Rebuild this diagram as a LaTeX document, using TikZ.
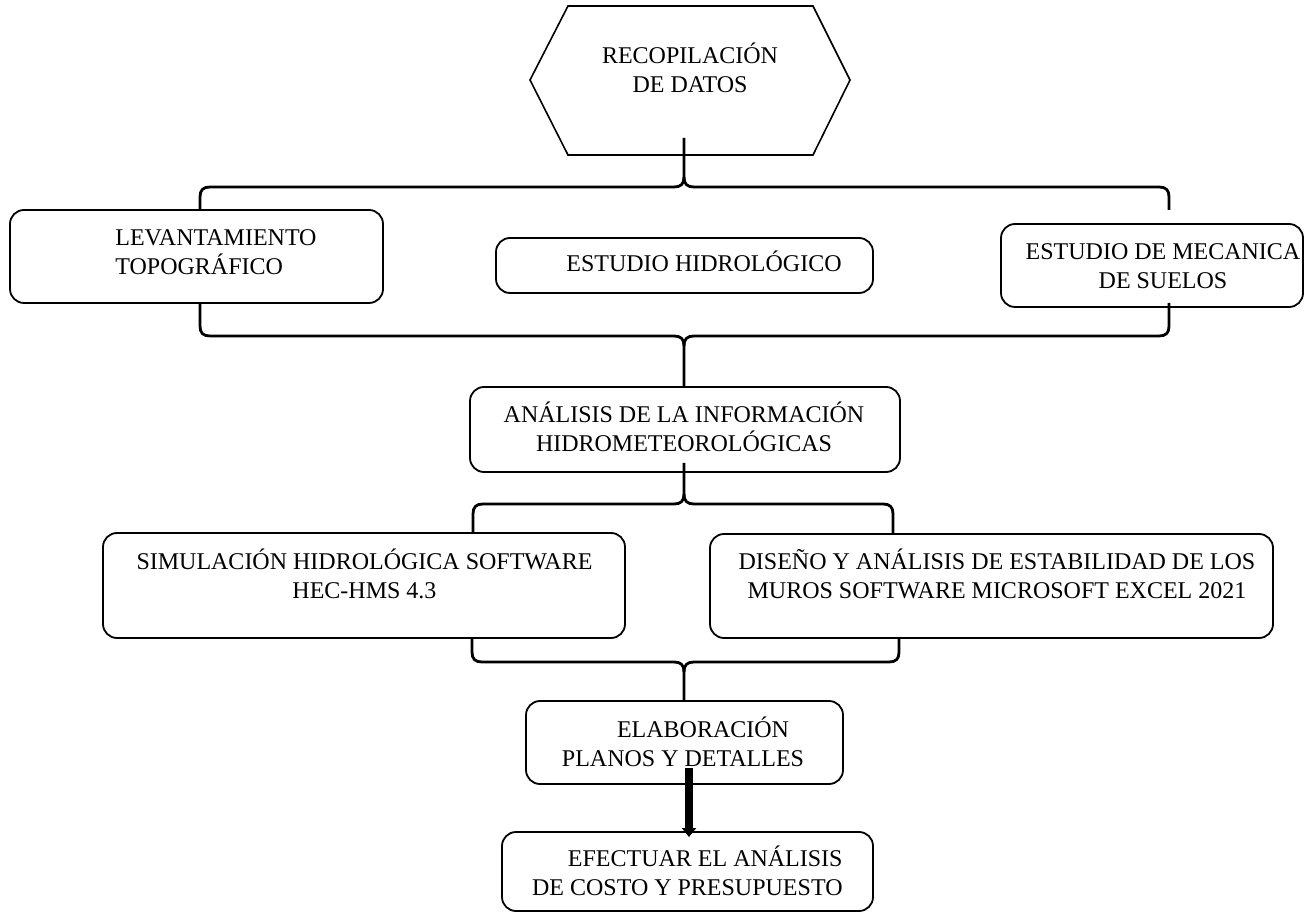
\documentclass[tikz,border=0pt]{standalone}
\usepackage{fontspec}
\setmainfont{Liberation Serif}
\usetikzlibrary{fit,arrows.meta}
\newcommand\drawbrace[6]{%
 \pgfmathsetmacro\brcS{(#4>#3)?10:-10}%
 \pgfmathsetmacro\brcC{(#4>#3)?3:-3}%
 \pgfmathsetmacro\brcT{(#6>#3)?10:-10}%
 \pgfmathsetmacro\brcD{(#6>#3)?3:-3}%
 \draw[brc] (#1,#4) -- (#1,{#3+(\brcS)}) .. controls (#1,{#3+(\brcC)}) and ({#1+3},#3) .. ({#1+10},#3) -- ({#5-10},#3) .. controls ({#5-3},#3) and (#5,{#3+(\brcD)}) .. (#5,{#3+(\brcT)}) -- (#5,#6);
 \draw[brc] (#5,{#3+(\brcT)}) .. controls (#5,{#3+(\brcD)}) and ({#5+3},#3) .. ({#5+10},#3) -- ({#2-10},#3) .. controls ({#2-3},#3) and (#2,{#3+(\brcC)}) .. (#2,{#3+(\brcS)}) -- (#2,#4);
}
\begin{document}
\begin{tikzpicture}[x=0.5pt,y=-0.5pt,
  box/.style={draw, line width=0.9pt, rounded corners=7pt, inner sep=0pt, outer sep=0pt},
  txt/.style={font=\fontsize{12pt}{14.5pt}\selectfont, align=center, inner sep=0pt},
  brc/.style={line width=1.4pt, line join=round},
  hexline/.style={line width=0.8pt, line join=miter}]
\fill[white] (0,0) rectangle (1310,913);
\useasboundingbox (0,0) rectangle (1310,913);

% braces
\drawbrace{200}{1169}{187}{210}{684}{138}
\drawbrace{200}{1169}{336}{303}{684}{387}
\drawbrace{473}{893}{504}{534}{684}{463}
\drawbrace{472}{899}{662}{638}{684}{701}

% hexagon
\draw[hexline] (568,6) -- (813,6) -- (850,80) -- (813,155) -- (568,155) -- (530,80) -- cycle;
\node[txt, anchor=base] (hex) at (690,93) {RECOPILACIÓN\\DE DATOS};

% boxes
\node[box, fit={(10,210) (383,303)}] (b1) {};
\node[box, fit={(496,238) (873,293)}] (b2) {};
\node[box, fit={(1001,224) (1303,307)}] (b3) {};
\node[box, fit={(470,387) (900,472)}] (b4) {};
\node[box, fit={(103,533) (625,638)}] (b5) {};
\node[box, fit={(710,534) (1273,638)}] (b6) {};
\node[box, fit={(526,701) (843,784)}] (b7) {};
\node[box, fit={(502,832) (873,911)}] (b8) {};

% texts (base anchor = baseline of last line)
\node[txt, anchor=base west, align=left] (t1) at (115,275) {LEVANTAMIENTO\\TOPOGRÁFICO};
\node[txt, anchor=base] (t2) at (704,272) {ESTUDIO HIDROLÓGICO};
\node[txt, anchor=base] (t3) at (1163,289) {ESTUDIO DE MECANICA\\DE SUELOS};
\node[txt, anchor=base] (t4) at (684,452) {ANÁLISIS DE LA INFORMACIÓN\\HIDROMETEOROLÓGICAS};
\node[txt, anchor=base] (t5) at (364.5,598) {SIMULACIÓN HIDROLÓGICA SOFTWARE\\HEC-HMS 4.3};
\node[txt, anchor=base] (t6) at (997,598) {DISEÑO Y ANÁLISIS DE ESTABILIDAD DE LOS\\MUROS SOFTWARE MICROSOFT EXCEL 2021};
\node[txt, anchor=base] (t7) at (683,766) {\hspace*{20pt}ELABORACIÓN\\PLANOS Y DETALLES};
\node[txt, anchor=base east, align=right] (t8) at (843,895) {EFECTUAR EL ANÁLISIS\\DE COSTO Y PRESUPUESTO};

% arrow
\coordinate (a0) at (689,768);
\draw[line width=4pt, -{Triangle[width=7pt,length=4.5pt]}, shorten >=-2.5pt] (a0) -- (a0 |- b8.north);
\end{tikzpicture}
\end{document}
